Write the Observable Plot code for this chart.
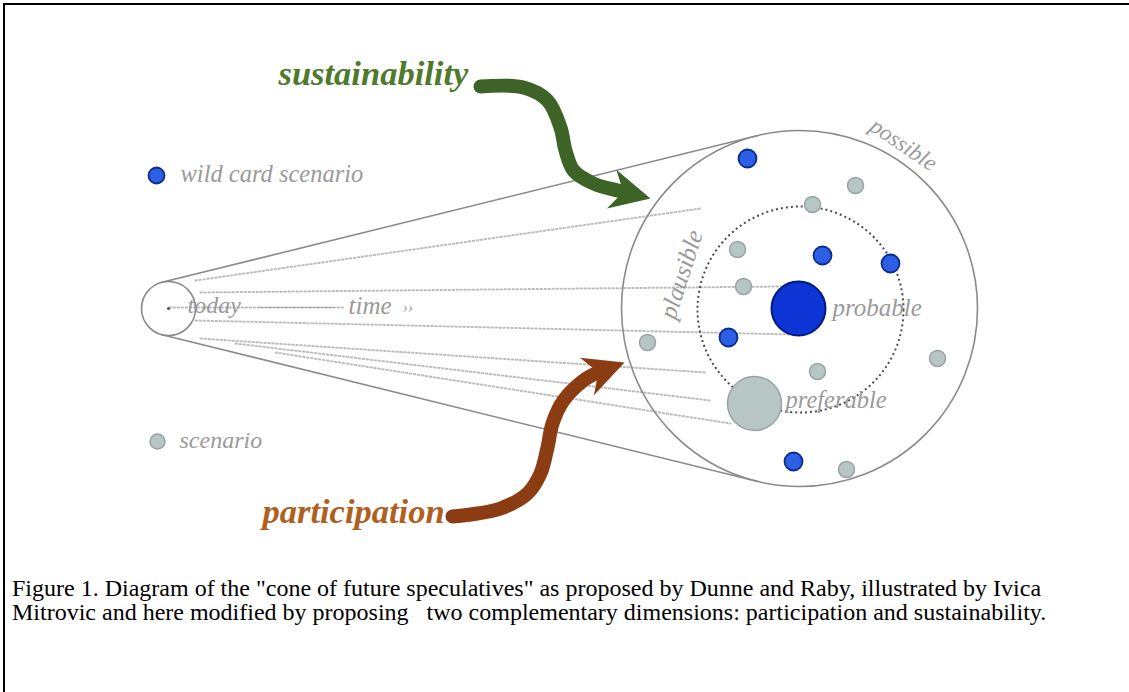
<!DOCTYPE html>
<html>
<head>
<meta charset="utf-8">
<script src="https://cdn.jsdelivr.net/npm/d3@7"></script>
<script src="https://cdn.jsdelivr.net/npm/@observablehq/plot@0.6"></script>
<style>
  html, body { margin: 0; padding: 0; background: #fff; }
  body { width: 1129px; height: 692px; overflow: hidden; position: relative; }
  #frame { position: absolute; left: 3px; top: 3px; width: 1140px; height: 700px;
           border-top: 2px solid #000; border-left: 2px solid #000; }
  #chart { position: absolute; left: 0; top: 0; }
  #caption { position: absolute; left: 12px; top: 576px; white-space: nowrap;
             font-family: "Liberation Serif", "Times New Roman", serif;
             font-size: 24px; line-height: 24px; color: #000; }
</style>
</head>
<body>
<div id="frame"></div>
<div id="chart"></div>
<div id="caption">Figure 1. Diagram of the "cone of future speculatives" as proposed by Dunne and Raby, illustrated by Ivica<br>Mitrovic and here modified by proposing&nbsp;&nbsp; two complementary dimensions: participation and sustainability.</div>
<script>
// ---- data ----
const cones = [                       // today point and cone of possible futures
  {name: "today", x: 168, y: 308, r: 27},
  {name: "possible", x: 799, y: 308, r: 178}
];
const plausibleRing = [{name: "plausible", x: 800, y: 309, r: 103}];
const wildCards = [
  {x: 747, y: 158}, {x: 822, y: 255}, {x: 890, y: 263}, {x: 728, y: 337}, {x: 793, y: 461}
];
const scenarios = [
  {x: 855, y: 185}, {x: 812, y: 204}, {x: 737, y: 249}, {x: 743, y: 286},
  {x: 647, y: 342}, {x: 817, y: 371}, {x: 937, y: 358}, {x: 846, y: 469}
];
const probable = [{name: "probable", x: 798, y: 308, r: 27}];
const preferable = [{name: "preferable", x: 754, y: 403, r: 27}];
const legendWild = [{label: "wild card scenario", x: 156, y: 175}];
const legendScenario = [{label: "scenario", x: 157, y: 441}];
const rayStarts = [[195, 280], [200, 292], [195, 320], [200, 338], [235, 343], [275, 352], [169, 307]];
const rayEnds   = [[700, 208], [780, 286], [790, 334], [705, 372], [710, 400], [730, 423], [345, 307]];
const timeLine = [[258, 307], [333, 307]];
const grayLabels = [
  {text: "today", x: 187, y: 305, size: 24},
  {text: "time", x: 348, y: 305, size: 25},
  {text: "››", x: 402, y: 307, size: 16},
  {text: "probable", x: 832, y: 307, size: 25},
  {text: "preferable", x: 785, y: 400, size: 24.5}
];
const sustainabilityPath = [[480, 86], [523, 87], [547, 100], [560, 127], [565, 150], [573, 170], [593, 183], [617, 190]];
const sustainabilityTip = [650, 198];
const participationPath = [[452, 516], [470, 514], [500, 508], [527, 493], [540, 473], [547, 447], [552, 423], [563, 400], [583, 380], [597, 372]];
const participationTip = [624, 362];

// ---- derived geometry ----
function tangent(A, B, sign) {
  const d = Math.hypot(B.x - A.x, B.y - A.y);
  const ux = (B.x - A.x) / d, uy = (B.y - A.y) / d;
  const c = (A.r - B.r) / d, h = Math.sqrt(1 - c * c);
  const nx = c * ux - sign * h * uy, ny = c * uy + sign * h * ux;
  return [{id: sign, x: A.x + A.r * nx, y: A.y + A.r * ny}, {id: sign, x: B.x + B.r * nx, y: B.y + B.r * ny}];
}
const tangents = [...tangent(cones[0], cones[1], -1), ...tangent(cones[0], cones[1], 1)];
const rays = rayStarts.flatMap((s, i) => [{id: i, x: s[0], y: s[1]}, {id: i, x: rayEnds[i][0], y: rayEnds[i][1]}]);
const timeRule = timeLine.map(([x, y]) => ({x, y}));

function arrow(path, tip, headLen) {
  const last = path[path.length - 1];
  const dx = tip[0] - last[0], dy = tip[1] - last[1], L = Math.hypot(dx, dy);
  const ext = [tip[0] - dx / L * headLen * 0.55, tip[1] - dy / L * headLen * 0.55];
  const body = [...path, ext].map(([x, y]) => ({x, y}));
  const head = [{x: tip[0], y: tip[1], angle: Math.atan2(dx, -dy) * 180 / Math.PI}];
  return {body, head};
}
const headShape = {
  draw(context, l) {
    const w = l * 0.5;
    context.moveTo(0, -l);
    context.lineTo(w, 0);
    context.lineTo(0, -l * 0.3);
    context.lineTo(-w, 0);
    context.closePath();
  }
};
const greenArrow = arrow(sustainabilityPath, sustainabilityTip, 40);
const brownArrow = arrow(participationPath, participationTip, 40);

const serif = "'Liberation Serif', 'Times New Roman', serif";
const labelGray = "#9a9a9a";
const blueFill = "#2c5fe6", blueStroke = "#0c2b8c";
const grayFill = "#b8c5c5", grayStroke = "#97a3a3";

const W = 1129, H = 560;
const chart = Plot.plot({
  width: W, height: H, margin: 0,
  x: {domain: [0, W], range: [0, W], axis: null},
  y: {domain: [0, H], range: [0, H], axis: null},
  r: {type: "identity"},
  style: {background: "transparent", overflow: "visible"},
  marks: [
    // dotted time rays
    Plot.line(rays, {x: "x", y: "y", z: "id", stroke: "#bdbdbd", strokeWidth: 2, strokeDasharray: "1.5,2.5"}),
    Plot.line(timeRule, {x: "x", y: "y", stroke: "#a8a8a8", strokeWidth: 1.2}),
    // cone
    Plot.line(tangents, {x: "x", y: "y", z: "id", stroke: "#8a8a8a", strokeWidth: 1.6}),
    Plot.dot(cones, {x: "x", y: "y", r: "r", stroke: "#8a8a8a", strokeWidth: 1.6, fill: "none"}),
    Plot.dot(cones.slice(0, 1), {x: "x", y: "y", r: 1.6, fill: "#555", stroke: "none"}),
    Plot.dot(plausibleRing, {x: "x", y: "y", r: "r", stroke: "#4a4a5a", strokeWidth: 2, strokeDasharray: "2,3", fill: "none"}),
    // scenarios
    Plot.dot(scenarios, {x: "x", y: "y", r: 8, fill: grayFill, stroke: grayStroke, strokeWidth: 1.5}),
    Plot.dot(wildCards, {x: "x", y: "y", r: 9, fill: blueFill, stroke: blueStroke, strokeWidth: 1.8}),
    Plot.dot(preferable, {x: "x", y: "y", r: "r", fill: grayFill, stroke: grayStroke, strokeWidth: 1.5}),
    Plot.dot(probable, {x: "x", y: "y", r: "r", fill: "#0f34d6", stroke: "#021a7e", strokeWidth: 2}),
    // legend
    Plot.dot(legendWild, {x: "x", y: "y", r: 8, fill: blueFill, stroke: blueStroke, strokeWidth: 1.8}),
    Plot.text(legendWild, {x: d => d.x + 24, y: d => d.y - 1, text: "label", textAnchor: "start", fontFamily: serif, fontStyle: "italic", fontSize: 24.5, fill: labelGray}),
    Plot.dot(legendScenario, {x: "x", y: "y", r: 7.5, fill: grayFill, stroke: grayStroke, strokeWidth: 1.5}),
    Plot.text(legendScenario, {x: d => d.x + 22, y: d => d.y - 1, text: "label", textAnchor: "start", fontFamily: serif, fontStyle: "italic", fontSize: 24, fill: labelGray}),
    // labels
    Plot.text(grayLabels, {x: "x", y: "y", text: "text", fontSize: d => d.size, textAnchor: "start", fontFamily: serif, fontStyle: "italic", fill: labelGray}),
    Plot.text(plausibleRing, {x: 681, y: 274, text: "name", rotate: -72, fontFamily: serif, fontStyle: "italic", fontSize: 25, fill: labelGray}),
    Plot.text(cones.slice(1), {x: 903, y: 144, text: "name", rotate: 34, fontFamily: serif, fontStyle: "italic", fontSize: 23, fill: labelGray}),
    // dimension arrows
    Plot.line(greenArrow.body, {x: "x", y: "y", curve: "catmull-rom", stroke: "#3d6326", strokeWidth: 14}),
    Plot.vector(greenArrow.head, {x: "x", y: "y", rotate: "angle", length: 40, anchor: "end", shape: headShape, fill: "#3d6326", stroke: "none"}),
    Plot.line(brownArrow.body, {x: "x", y: "y", curve: "catmull-rom", stroke: "#8b3c12", strokeWidth: 14}),
    Plot.vector(brownArrow.head, {x: "x", y: "y", rotate: "angle", length: 40, anchor: "end", shape: headShape, fill: "#8b3c12", stroke: "none"}),
    Plot.text(["sustainability"], {x: 278, y: 73, text: d => d, textAnchor: "start", fontFamily: serif, fontStyle: "italic", fontWeight: "bold", fontSize: 34.5, fill: "#4e7a2c"}),
    Plot.text(["participation"], {x: 262, y: 511, text: d => d, textAnchor: "start", fontFamily: serif, fontStyle: "italic", fontWeight: "bold", fontSize: 34.5, fill: "#b0601e"})
  ]
});
document.getElementById("chart").appendChild(chart);
</script>
</body>
</html>
